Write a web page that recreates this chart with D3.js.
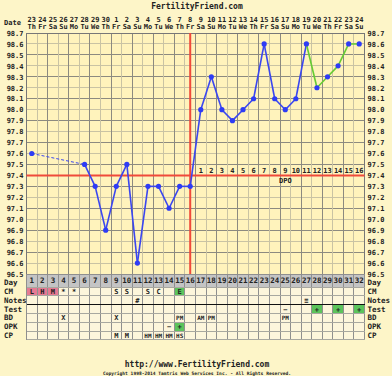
<!DOCTYPE html>
<html><head><meta charset="utf-8">
<script src="https://cdn.jsdelivr.net/npm/d3@7"></script>
<style>
html,body{margin:0;padding:0;background:#fdf5c8;}
svg{display:block;}
text{font-family:"DejaVu Sans Mono",monospace;font-weight:bold;fill:#222;}
</style></head>
<body>
<svg id="c" width="392" height="376"></svg>
<script>
const days = [1,2,3,4,5,6,7,8,9,10,11,12,13,14,15,16,17,18,19,20,21,22,23,24,25,26,27,28,29,30,31,32];
const dates = ["23","24","25","26","27","28","29","30","1","2","3","4","5","6","7","8","9","10","11","12","13","14","15","16","17","18","19","20","21","22","23","24"];
const weekdays = ["Th","Fr","Sa","Su","Mo","Tu","We","Th","Fr","Sa","Su","Mo","Tu","We","Th","Fr","Sa","Su","Mo","Tu","We","Th","Fr","Sa","Su","Mo","Tu","We","Th","Fr","Sa","Su"];
const temps = [97.6,null,null,null,null,97.5,97.3,96.9,97.3,97.5,96.6,97.3,97.3,97.1,97.3,97.3,98.0,98.3,98.0,97.9,98.0,98.1,98.6,98.1,98.0,98.1,98.6,98.2,98.3,98.4,98.6,98.6];
const tempTicks = [96.5,96.6,96.7,96.8,96.9,97.0,97.1,97.2,97.3,97.4,97.5,97.6,97.7,97.8,97.9,98.0,98.1,98.2,98.3,98.4,98.5,98.6,98.7];
const coverline = 97.4;
const ovulationDay = 16;
const greenFromDay = 27;
const dpoLabels = ["1","2","3","4","5","6","7","8","9","10","11","12","13","14","15","16"];
const rowNames = ["CM","Notes","Test","BD","OPK","CP"];
// cells: [row, day, text, highlight]
const cells = [
  ["CM",1,"L","pink"],["CM",2,"H","pink"],["CM",3,"M","pink"],["CM",4,"*",""],["CM",5,"*",""],
  ["CM",9,"S",""],["CM",10,"S",""],["CM",12,"S",""],["CM",13,"C",""],["CM",15,"E","green"],
  ["Notes",11,"#",""],["Notes",27,"≡",""],
  ["Test",25,"−",""],["Test",28,"+","green"],["Test",30,"+","green"],["Test",32,"+","green"],
  ["BD",4,"X",""],["BD",9,"X",""],["BD",15,"PM",""],["BD",17,"AM",""],["BD",18,"PM",""],["BD",25,"PM",""],
  ["OPK",14,"−",""],["OPK",15,"+","green"],
  ["CP",9,"M",""],["CP",10,"M",""],["CP",12,"HM",""],["CP",13,"HM",""],["CP",14,"HM",""],["CP",15,"HS",""]
];

const svg = d3.select("#c");
const L = 26.5, R = 364.5, T = 33, B = 274;
const x = d3.scaleLinear().domain([0, days.length]).range([L, R]);
const cx = d => x(d - 0.5);
const y = d3.scaleLinear().domain([96.5, 98.7]).range([B, T]);

svg.append("rect").attr("width",392).attr("height",376).attr("fill","#fdf5c8");
svg.append("rect").attr("x",L).attr("y",T).attr("width",R-L).attr("height",B-T).attr("fill","#fff3bc");

// horizontal grid
svg.append("g").selectAll("line").data(tempTicks).join("line")
  .attr("x1",L).attr("x2",R).attr("y1",d=>y(d)).attr("y2",d=>y(d))
  .attr("stroke",d=>Math.round(d*10)%2===1?"#8c8a80":"#c9c3a4").attr("stroke-width",1)
  .attr("shape-rendering","crispEdges");
// vertical grid
svg.append("g").selectAll("line").data(d3.range(0, days.length+1)).join("line")
  .attr("x1",k=>x(k)).attr("x2",k=>x(k)).attr("y1",T).attr("y2",B)
  .attr("stroke",k=>k%2===0?"#8c8a80":"#c9c3a4").attr("stroke-width",1)
  .attr("shape-rendering","crispEdges");

// title
svg.append("text").attr("x",197).attr("y",8.5).attr("text-anchor","middle").attr("font-size",8).text("FertilityFriend.com");

// date header
svg.append("text").attr("x",4).attr("y",25).attr("font-size",7).text("Date");
svg.append("g").selectAll("text").data(days).join("text")
  .attr("x",d=>cx(d)).attr("y",21.5).attr("text-anchor","middle").attr("font-size",7)
  .text((d,i)=>dates[i]);
svg.append("g").selectAll("text").data(days).join("text")
  .attr("x",d=>cx(d)).attr("y",28.5).attr("text-anchor","middle").attr("font-size",7)
  .text((d,i)=>weekdays[i]);

// temperature axes
const axL = d3.axisLeft(y).tickValues(tempTicks).tickFormat(d3.format(".1f")).tickSize(0).tickPadding(3);
const gl = svg.append("g").attr("transform",`translate(${L},0)`).call(axL);
const axR = d3.axisRight(y).tickValues(tempTicks).tickFormat(d3.format(".1f")).tickSize(0).tickPadding(3);
const gr = svg.append("g").attr("transform",`translate(${R},0)`).call(axR);
[gl,gr].forEach(g=>{g.select(".domain").remove();
  g.selectAll("text").attr("font-size",7).attr("font-family","DejaVu Sans Mono, monospace").attr("font-weight","bold").attr("fill","#222");});

// plot border
svg.append("rect").attr("x",L).attr("y",T).attr("width",R-L).attr("height",B-T)
  .attr("fill","none").attr("stroke","#777").attr("shape-rendering","crispEdges");

// coverline and ovulation line
svg.append("line").attr("x1",L).attr("x2",R).attr("y1",y(coverline)).attr("y2",y(coverline))
  .attr("stroke","#f04a3a").attr("stroke-width",2);
svg.append("line").attr("x1",cx(ovulationDay)).attr("x2",cx(ovulationDay)).attr("y1",T).attr("y2",281)
  .attr("stroke","#f04a3a").attr("stroke-width",2);

// DPO
svg.append("g").selectAll("text").data(dpoLabels).join("text")
  .attr("x",(d,i)=>cx(ovulationDay+1+i)).attr("y",y(coverline)-2.5).attr("text-anchor","middle").attr("font-size",7)
  .text(d=>d);
svg.append("text").attr("x",cx(25)).attr("y",y(coverline)+8).attr("text-anchor","middle").attr("font-size",7).text("DPO");

// temperature line
const pts = days.map((d,i)=>({d, t:temps[i]})).filter(p=>p.t!==null);
const segs = [];
for (let i=0;i<pts.length-1;i++){
  const a=pts[i], b=pts[i+1];
  segs.push({a,b,dashed:b.d-a.d>1,green:a.d>=greenFromDay});
}
svg.append("g").selectAll("line").data(segs).join("line")
  .attr("x1",s=>cx(s.a.d)).attr("y1",s=>y(s.a.t)).attr("x2",s=>cx(s.b.d)).attr("y2",s=>y(s.b.t))
  .attr("stroke",s=>s.green?"#66cc33":"#3a46f0")
  .attr("stroke-width",s=>s.dashed?1:1.6)
  .attr("stroke-dasharray",s=>s.dashed?"3,2":null);
svg.append("g").selectAll("circle").data(pts).join("circle")
  .attr("cx",p=>cx(p.d)).attr("cy",p=>y(p.t)).attr("r",2.6).attr("fill","#2e3cf5");

// table
const dayTop = 274, dayBot = 287, rowH = 8.8;
const rowY = n => dayBot + rowNames.indexOf(n)*rowH;
const tableBot = dayBot + rowNames.length*rowH;
svg.append("rect").attr("x",L).attr("y",dayTop).attr("width",R-L).attr("height",dayBot-dayTop).attr("fill","#c4c4c4");
svg.append("rect").attr("x",L).attr("y",dayBot).attr("width",R-L).attr("height",tableBot-dayBot).attr("fill","#fdf6dc");
svg.append("g").selectAll("rect").data(cells.filter(c=>c[3])).join("rect")
  .attr("x",c=>x(c[1]-1)).attr("y",c=>rowY(c[0])).attr("width",x(1)-x(0)).attr("height",rowH)
  .attr("fill",c=>c[3]==="pink"?"#e67a93":"#5cc45c");
// table grid
svg.append("g").selectAll("line").data(d3.range(0, days.length+1)).join("line")
  .attr("x1",k=>x(k)).attr("x2",k=>x(k)).attr("y1",dayTop).attr("y2",tableBot)
  .attr("stroke","#8f8f8f").attr("shape-rendering","crispEdges");
svg.append("g").selectAll("line").data(d3.range(0, rowNames.length+1)).join("line")
  .attr("x1",L).attr("x2",R).attr("y1",k=>dayBot+k*rowH).attr("y2",k=>dayBot+k*rowH)
  .attr("stroke",k=>k===2?"#111":"#a8a8a0").attr("stroke-width",k=>k===2?1.5:1)
  .attr("shape-rendering","crispEdges");
svg.append("line").attr("x1",L).attr("x2",R).attr("y1",dayTop).attr("y2",dayTop).attr("stroke","#8f8f8f").attr("shape-rendering","crispEdges");
// day numbers
svg.append("g").selectAll("text").data(days).join("text")
  .attr("x",d=>cx(d)).attr("y",(dayTop+dayBot)/2+2.6).attr("text-anchor","middle").attr("font-size",7.5).text(d=>d);
svg.append("text").attr("x",4).attr("y",284.5).attr("font-size",7.5).text("Day");
svg.append("text").attr("x",R+3).attr("y",284.5).attr("font-size",7.5).text("Day");
// row labels
svg.append("g").selectAll("text").data(rowNames).join("text")
  .attr("x",4).attr("y",n=>rowY(n)+rowH/2+2.6).attr("font-size",7.5).text(n=>n);
svg.append("g").selectAll("text").data(rowNames).join("text")
  .attr("x",R+3).attr("y",n=>rowY(n)+rowH/2+2.6).attr("font-size",7.5).text(n=>n);
// cell texts
svg.append("g").selectAll("text").data(cells).join("text")
  .attr("x",c=>cx(c[1])).attr("y",c=>rowY(c[0])+rowH/2+2.5).attr("text-anchor","middle")
  .attr("font-size",c=>c[2].length>1?6:7).text(c=>c[2]);

// footer
svg.append("text").attr("x",197).attr("y",367).attr("text-anchor","middle").attr("font-size",8).text("http://www.FertilityFriend.com");
svg.append("text").attr("x",197).attr("y",374.5).attr("text-anchor","middle").attr("font-size",4.6).attr("font-weight","normal")
  .text("Copyright 1998-2014 Tamtris Web Services Inc. - All Rights Reserved.");
</script>
</body></html>
